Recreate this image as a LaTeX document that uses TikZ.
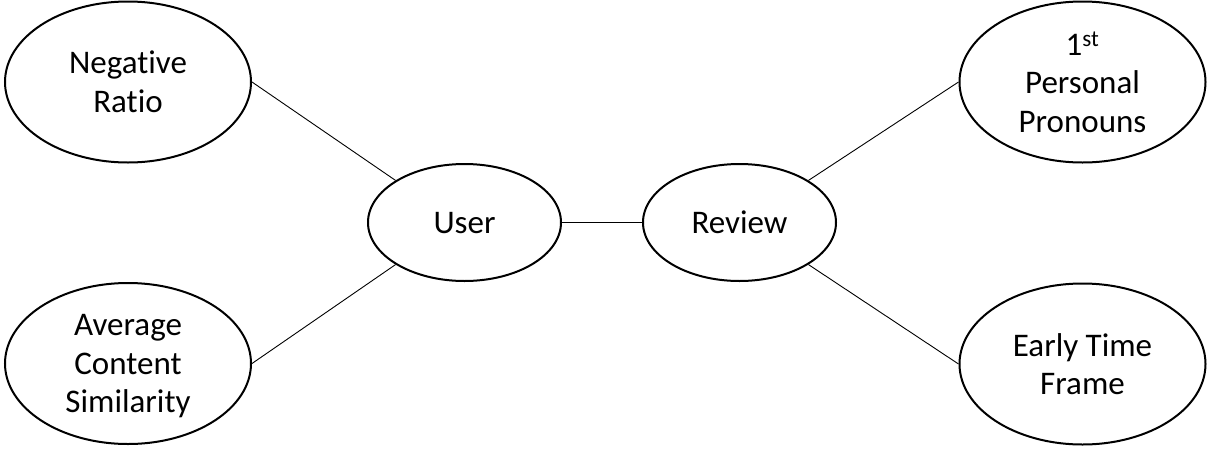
\documentclass[tikz,border=0pt]{standalone}
\usepackage{fontspec}
\setmainfont{Carlito}[Ligatures={NoCommon}]
\usetikzlibrary{shapes.geometric}
\newcommand{\nodepth}[1]{\raisebox{0pt}[\height][0pt]{#1}}
\tikzset{
  attr/.style={ellipse, draw, line width=2pt, inner sep=0pt, minimum width=246pt, minimum height=161pt, align=center, font=\fontsize{33}{38.5}\selectfont},
  ent/.style={ellipse, draw, line width=2pt, inner sep=0pt, minimum width=193pt, minimum height=117pt, text height=21pt, text depth=0pt, font=\fontsize{33}{38.5}\selectfont},
  link/.style={line width=0.9pt}
}
\begin{document}
\begin{tikzpicture}[x=1pt,y=-1pt]
\useasboundingbox (0,0) rectangle (1216,450);
\node[attr] (nr) at (128,82) {Negative\\Ratio};
\node[attr] (acs) at (128,363.5) {Average\\Content\\\nodepth{Similarity}};
\node[ent] (user) at (464.5,222.5) {User};
\node[ent] (review) at (739.5,222.5) {Review};
\node[attr] (fpp) at (1082.5,82) {1\textsuperscript{st}\\Personal\\Pronouns};
\node[attr] (etf) at (1082.5,364) {Early Time\\Frame};
\draw[link] (nr.east) -- (user.north west);
\draw[link] (acs.east) -- (user.south west);
\draw[link] (user.east) -- (review.west);
\draw[link] (review.north east) -- (fpp.west);
\draw[link] (review.south east) -- (etf.west);
\end{tikzpicture}
\end{document}
